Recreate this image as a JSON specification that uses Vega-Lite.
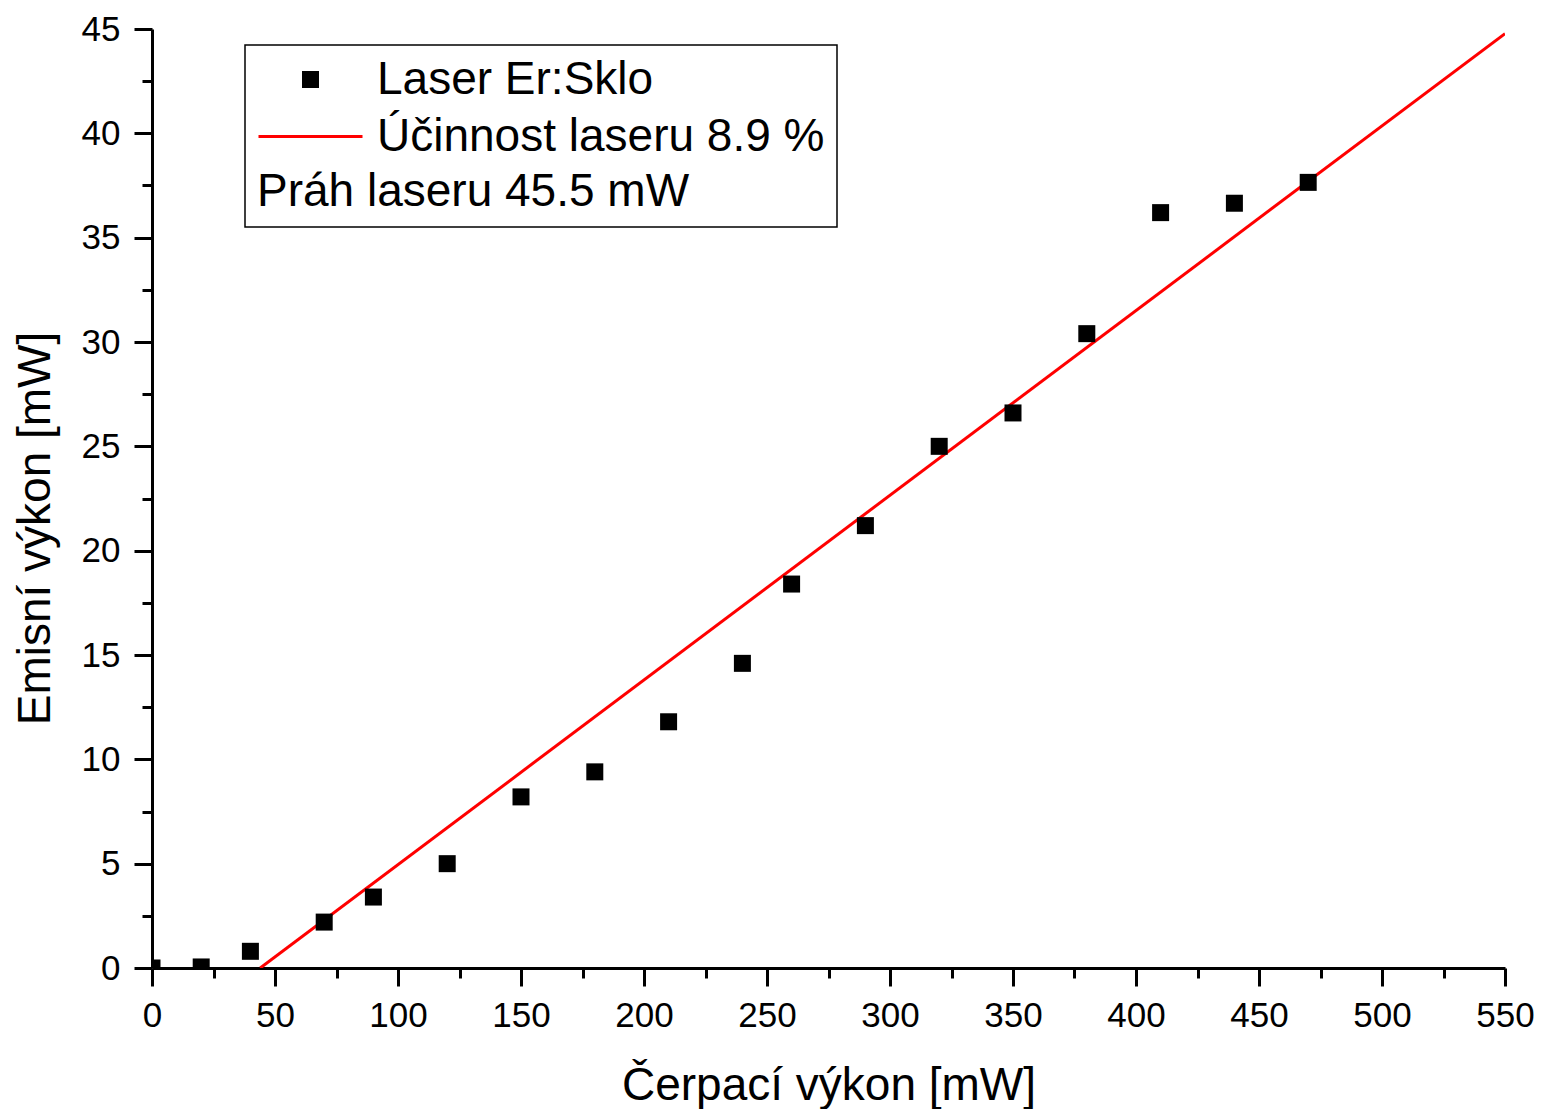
{
  "$schema": "https://vega.github.io/schema/vega-lite/v6.json",
  "width": 1353,
  "height": 939,
  "autosize": {"type": "none"},
  "padding": {"left": 152, "top": 29, "right": 37, "bottom": 141},
  "background": "white",
  "config": {
    "view": {"stroke": null},
    "font": "Liberation Sans",
    "axis": {
      "domainColor": "black",
      "domainWidth": 3,
      "tickColor": "black",
      "tickWidth": 3,
      "labelColor": "black",
      "titleColor": "black",
      "labelFont": "Liberation Sans",
      "titleFont": "Liberation Sans",
      "labelFontSize": 35,
      "titleFontSize": 46,
      "titleFontWeight": "normal",
      "labelFlush": false,
      "grid": false,
      "zindex": 1
    }
  },
  "datasets": {
    "points": [
      {"pump": 0, "power": 0.0, "series": "Laser Er:Sklo"},
      {"pump": 20, "power": 0.05, "series": "Laser Er:Sklo"},
      {"pump": 40, "power": 0.8, "series": "Laser Er:Sklo"},
      {"pump": 70, "power": 2.2, "series": "Laser Er:Sklo"},
      {"pump": 90, "power": 3.4, "series": "Laser Er:Sklo"},
      {"pump": 120, "power": 5.0, "series": "Laser Er:Sklo"},
      {"pump": 150, "power": 8.2, "series": "Laser Er:Sklo"},
      {"pump": 180, "power": 9.4, "series": "Laser Er:Sklo"},
      {"pump": 210, "power": 11.8, "series": "Laser Er:Sklo"},
      {"pump": 240, "power": 14.6, "series": "Laser Er:Sklo"},
      {"pump": 260, "power": 18.4, "series": "Laser Er:Sklo"},
      {"pump": 290, "power": 21.2, "series": "Laser Er:Sklo"},
      {"pump": 320, "power": 25.0, "series": "Laser Er:Sklo"},
      {"pump": 350, "power": 26.6, "series": "Laser Er:Sklo"},
      {"pump": 380, "power": 30.4, "series": "Laser Er:Sklo"},
      {"pump": 410, "power": 36.2, "series": "Laser Er:Sklo"},
      {"pump": 440, "power": 36.65, "series": "Laser Er:Sklo"},
      {"pump": 470, "power": 37.65, "series": "Laser Er:Sklo"}
    ],
    "fit": [
      {"pump": 44, "power": 0, "series": "Účinnost laseru 8.9 %"},
      {"pump": 550, "power": 44.78, "series": "Účinnost laseru 8.9 %"}
    ]
  },
  "encoding": {
    "x": {
      "field": "pump",
      "type": "quantitative",
      "title": "Čerpací výkon [mW]",
      "scale": {"domain": [0, 550], "nice": false, "zero": false},
      "axis": {
        "values": [0, 25, 50, 75, 100, 125, 150, 175, 200, 225, 250, 275, 300, 325, 350, 375, 400, 425, 450, 475, 500, 525, 550],
        "labelExpr": "datum.value % 50 === 0 ? datum.label : ''",
        "tickSize": {"condition": {"test": "datum.value % 50 === 0", "value": 18}, "value": 10},
        "labelPadding": 12,
        "labelOverlap": false,
        "titlePadding": 30
      }
    },
    "y": {
      "field": "power",
      "type": "quantitative",
      "title": "Emisní výkon [mW]",
      "scale": {"domain": [0, 45], "nice": false},
      "axis": {
        "values": [0, 2.5, 5, 7.5, 10, 12.5, 15, 17.5, 20, 22.5, 25, 27.5, 30, 32.5, 35, 37.5, 40, 42.5, 45],
        "labelExpr": "datum.value % 5 === 0 ? datum.label : ''",
        "tickSize": {"condition": {"test": "datum.value % 5 === 0", "value": 18}, "value": 10},
        "labelPadding": 14,
        "labelOverlap": false,
        "titlePadding": 22,
        "titleY": 499
      }
    },
    "color": {
      "field": "series",
      "type": "nominal",
      "scale": {"domain": ["Laser Er:Sklo", "Účinnost laseru 8.9 %"], "range": ["black", "red"]},
      "legend": {
        "title": "Práh laseru 45.5 mW",
        "titleOrient": "bottom",
        "titleAnchor": "start",
        "titleFontSize": 46,
        "titleFontWeight": "normal",
        "titleColor": "black",
        "titleFont": "Liberation Sans",
        "titleLimit": 2000,
        "titlePadding": 10,
        "labelFontSize": 46,
        "labelFont": "Liberation Sans",
        "labelColor": "black",
        "labelLimit": 2000,
        "labelOffset": 13,
        "orient": "none",
        "legendX": 93,
        "legendY": 16,
        "padding": 12,
        "rowPadding": 10,
        "symbolSize": 10816,
        "symbolStrokeWidth": 3,
        "clipHeight": 45,
        "strokeColor": "black",
        "encode": {
          "symbols": {
            "update": {
              "shape": {"signal": "datum.index === 0 ? 'square' : 'stroke'"},
              "size": {"signal": "datum.index === 0 ? 196 : 10816"},
              "fill": {"signal": "datum.index === 0 ? 'black' : 'transparent'"},
              "stroke": {"signal": "datum.index === 0 ? 'transparent' : 'red'"},
              "strokeWidth": {"value": 3},
              "opacity": {"value": 1}
            }
          },
          "legend": {
            "update": {
              "stroke": {"value": "black"},
              "strokeWidth": {"value": 1.5}
            }
          }
        }
      }
    }
  },
  "layer": [
    {
      "data": {"name": "fit"},
      "mark": {"type": "line", "strokeWidth": 3, "clip": true},
      "encoding": {}
    },
    {
      "data": {"name": "points"},
      "mark": {"type": "point", "shape": "square", "filled": true, "size": 289, "opacity": 1, "clip": true},
      "encoding": {}
    }
  ]
}
